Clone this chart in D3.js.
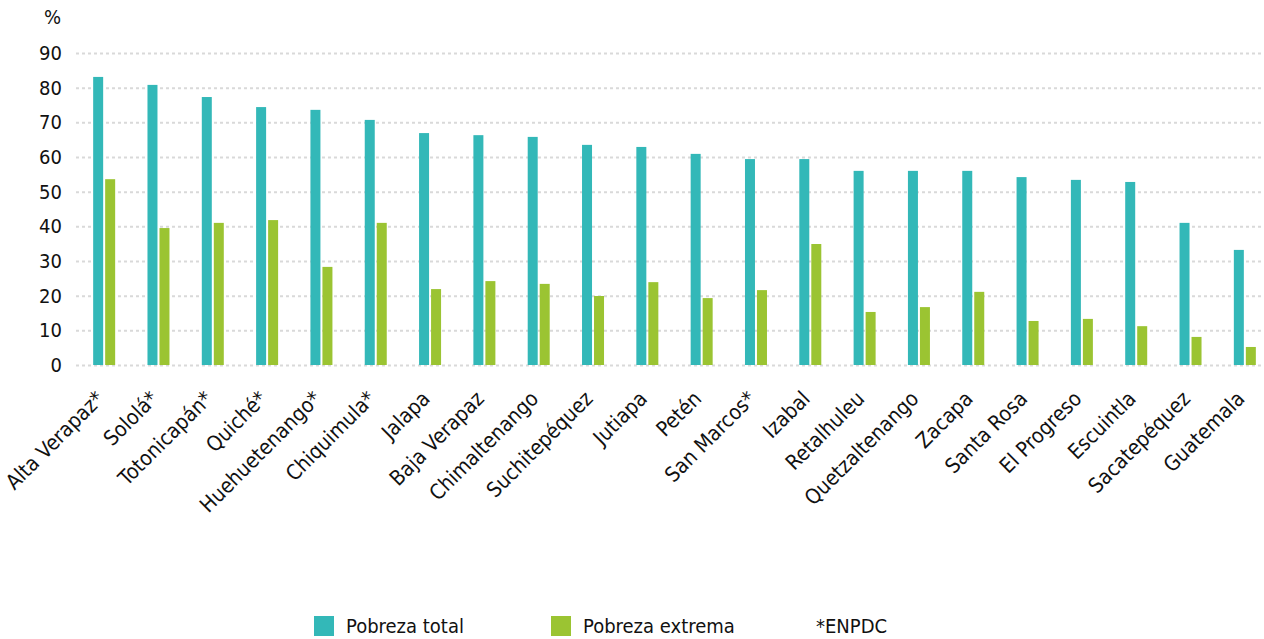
<!DOCTYPE html>
<html>
<head>
<meta charset="utf-8">
<script src="https://cdn.jsdelivr.net/npm/d3@7"></script>
<style>
  body { margin: 0; background: #fff; }
  svg text { font-family: "DejaVu Sans Condensed", "DejaVu Sans", sans-serif; fill: #111; }
</style>
</head>
<body>
<div id="chart"></div>
<script>
// Departments, sorted by total poverty
var departments = ["Alta Verapaz*", "Sololá*", "Totonicapán*", "Quiché*", "Huehuetenango*",
  "Chiquimula*", "Jalapa", "Baja Verapaz", "Chimaltenango", "Suchitepéquez", "Jutiapa",
  "Petén", "San Marcos*", "Izabal", "Retalhuleu", "Quetzaltenango", "Zacapa", "Santa Rosa",
  "El Progreso", "Escuintla", "Sacatepéquez", "Guatemala"];
var pobrezaTotal = [83.1, 80.8, 77.3, 74.4, 73.6, 70.7, 66.9, 66.3, 65.8, 63.5, 62.9,
  60.9, 59.4, 59.4, 56.0, 56.0, 56.0, 54.2, 53.4, 52.8, 41.0, 33.2];
var pobrezaExtrema = [53.6, 39.5, 41.0, 41.8, 28.3, 41.0, 21.9, 24.2, 23.4, 19.9, 23.9,
  19.3, 21.6, 34.9, 15.3, 16.7, 21.1, 12.7, 13.3, 11.2, 8.1, 5.2];
var yTicks = [0, 10, 20, 30, 40, 50, 60, 70, 80, 90];
var legendItems = ["Pobreza total", "Pobreza extrema"];

var colors = {total: "#33b8b8", extrema: "#9bc432"};
var width = 1264, height = 639;

var svg = d3.select('#chart').append('svg')
  .attr('width', width)
  .attr('height', height);

// x: one band per department, y: percent
var x = d3.scaleBand()
  .domain(departments)
  .range([77, 1272]);

var y = d3.scaleLinear()
  .domain([0, 90])
  .range([365, 53]);

// Dotted gridlines + tick labels
var yAxis = d3.axisLeft(y)
  .tickValues(yTicks)
  .tickSize(-(width - 76))
  .tickFormat(d3.format('d'));

var gy = svg.append('g')
  .attr('transform', 'translate(76,0)')
  .call(yAxis);
gy.select('.domain').remove();
gy.selectAll('.tick line')
  .attr('stroke', '#d9d9d9')
  .attr('stroke-width', 2)
  .attr('stroke-dasharray', '3,3');
gy.selectAll('.tick text')
  .attr('font-size', 20)
  .attr('x', -14);

svg.append('text')
  .attr('x', 61)
  .attr('y', 24)
  .attr('text-anchor', 'end')
  .attr('font-size', 20)
  .text('%');

var barW = 10, gap = 2;

var groups = svg.selectAll('.dept')
  .data(departments)
  .enter()
  .append('g')
  .attr('class', 'dept');

groups.append('rect')
  .attr('x', function (d) { return x(d) + x.bandwidth() / 2 - barW - gap / 2; })
  .attr('y', function (d, i) { return y(pobrezaTotal[i]); })
  .attr('width', barW)
  .attr('height', function (d, i) { return y(0) - y(pobrezaTotal[i]); })
  .attr('fill', colors.total);

groups.append('rect')
  .attr('x', function (d) { return x(d) + x.bandwidth() / 2 + gap / 2; })
  .attr('y', function (d, i) { return y(pobrezaExtrema[i]); })
  .attr('width', barW)
  .attr('height', function (d, i) { return y(0) - y(pobrezaExtrema[i]); })
  .attr('fill', colors.extrema);

// Rotated category labels
groups.append('text')
  .attr('text-anchor', 'end')
  .attr('font-size', 21)
  .attr('transform', function (d) {
    return 'translate(' + (x(d) + x.bandwidth() / 2 + 1) + ',400) rotate(-45)';
  })
  .text(function (d) { return d; });

// Legend
var legend = svg.append('g').attr('transform', 'translate(314,616)');
var legendX = [0, 237];
legendItems.forEach(function (name, i) {
  legend.append('rect')
    .attr('x', legendX[i])
    .attr('y', 0)
    .attr('width', 20)
    .attr('height', 20)
    .attr('fill', i === 0 ? colors.total : colors.extrema);
  legend.append('text')
    .attr('x', legendX[i] + 32)
    .attr('y', 17)
    .attr('font-size', 20)
    .text(name);
});
legend.append('text')
  .attr('x', 502)
  .attr('y', 17)
  .attr('font-size', 20)
  .text('*ENPDC');
</script>
</body>
</html>
